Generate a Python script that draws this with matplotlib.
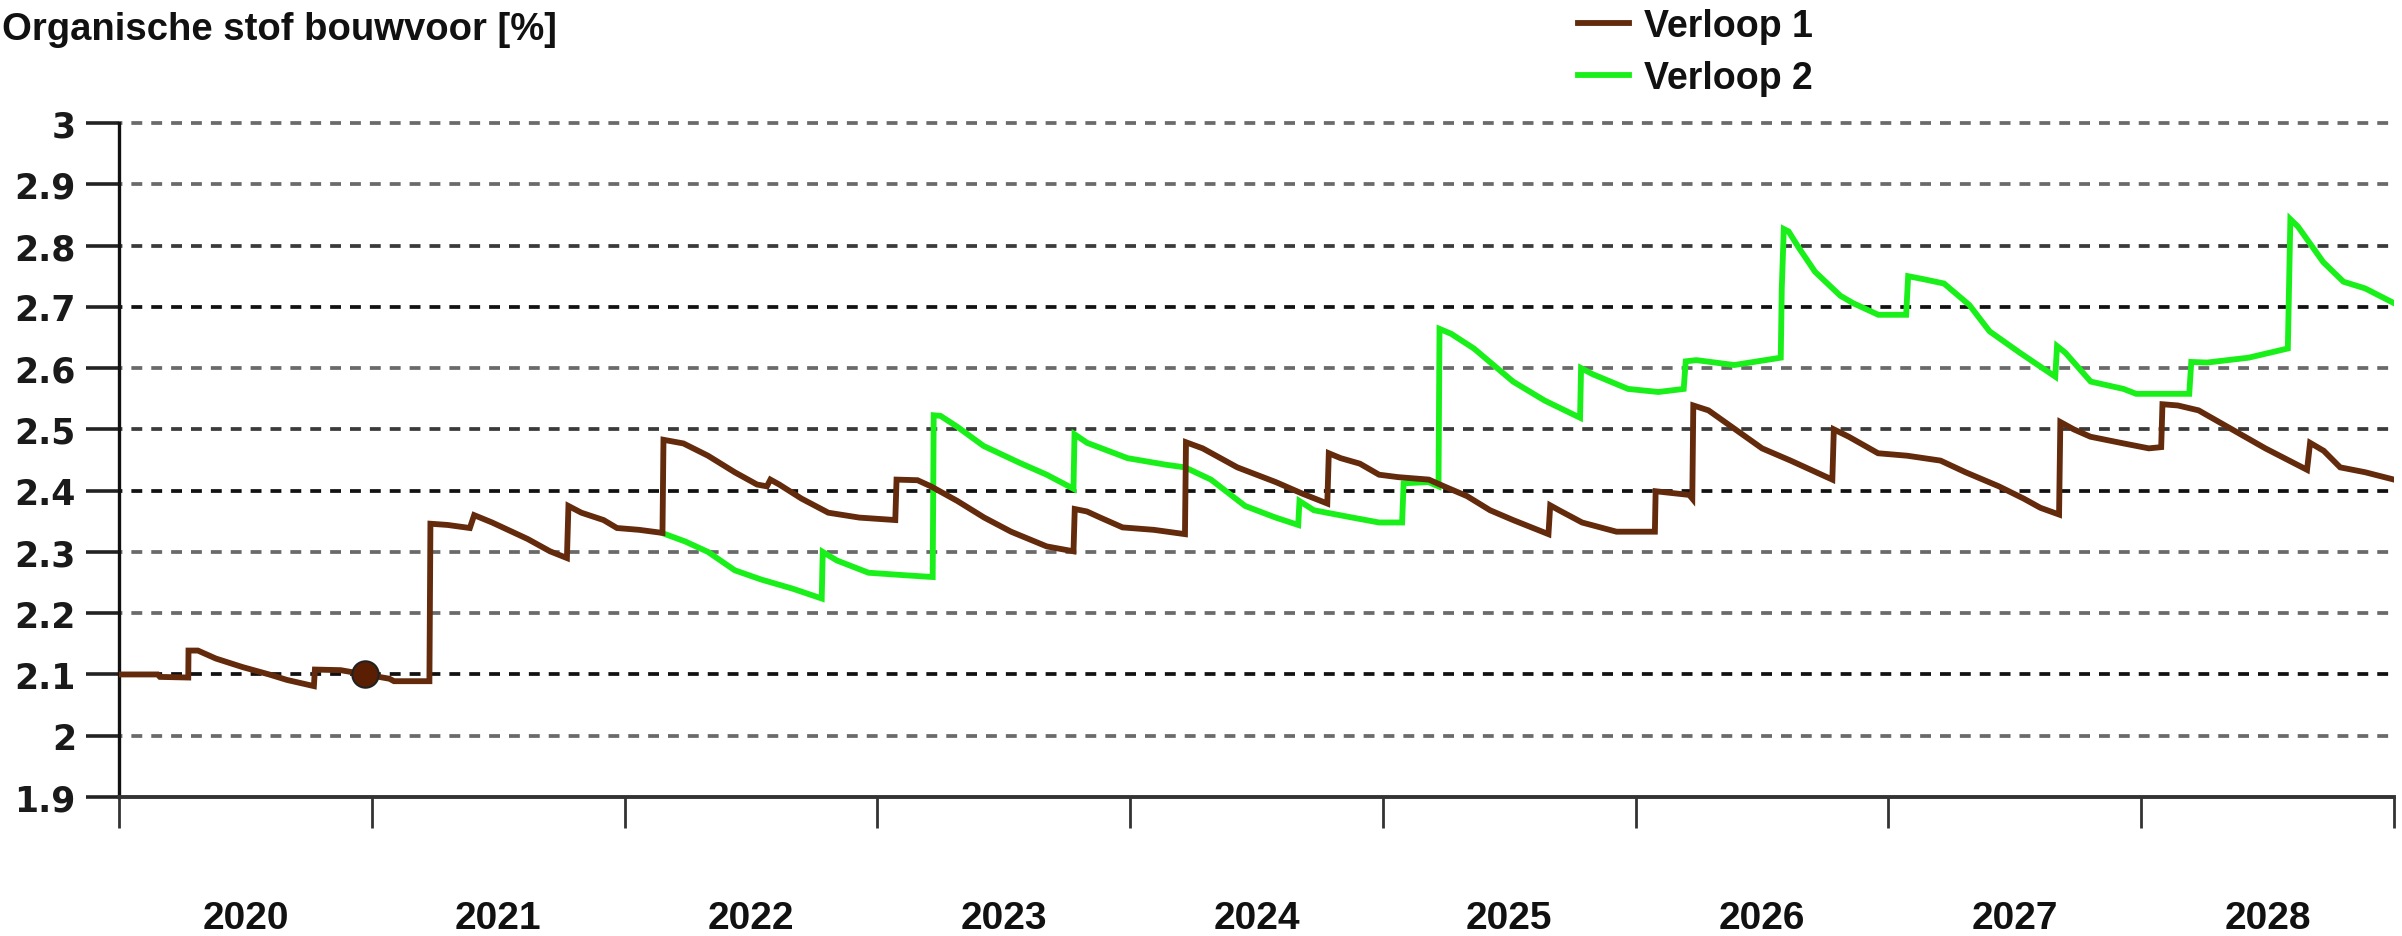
import matplotlib
matplotlib.use("Agg")
import matplotlib.pyplot as plt

# ---- data (years since start of 2020, % organic matter) ----
years = ["2020", "2021", "2022", "2023", "2024", "2025", "2026", "2027", "2028"]
yticks = [1.9, 2.0, 2.1, 2.2, 2.3, 2.4, 2.5, 2.6, 2.7, 2.8, 2.9, 3.0]
ytick_labels = ["1.9", "2", "2.1", "2.2", "2.3", "2.4", "2.5", "2.6", "2.7", "2.8", "2.9", "3"]

v1_t = [0.000, 0.153, 0.162, 0.274, 0.275, 0.312, 0.383, 0.489, 0.594, 0.665, 0.771, 0.775,
        0.877, 0.974, 1.070, 1.088, 1.228, 1.232, 1.300, 1.388, 1.405, 1.476, 1.617, 1.705,
        1.772, 1.778, 1.829, 1.917, 1.970, 2.058, 2.150, 2.154, 2.233, 2.330, 2.436, 2.524,
        2.563, 2.577, 2.612, 2.700, 2.806, 2.929, 3.071, 3.076, 3.159, 3.212, 3.317, 3.423,
        3.529, 3.670, 3.776, 3.781, 3.829, 3.882, 3.970, 4.094, 4.217, 4.221, 4.287, 4.424,
        4.576, 4.682, 4.780, 4.786, 4.833, 4.909, 4.985, 5.061, 5.182, 5.242, 5.333, 5.424,
        5.515, 5.655, 5.662, 5.697, 5.788, 5.924, 6.076, 6.079, 6.212, 6.224, 6.228, 6.288,
        6.394, 6.500, 6.613, 6.778, 6.784, 6.843, 6.959, 7.074, 7.206, 7.305, 7.437, 7.535,
        7.601, 7.675, 7.680, 7.733, 7.799, 7.931, 8.030, 8.079, 8.084, 8.145, 8.227, 8.359,
        8.491, 8.656, 8.668, 8.722, 8.787, 8.886, 9.000]
v1_y = [2.100, 2.100, 2.096, 2.095, 2.139, 2.139, 2.126, 2.112, 2.100, 2.091, 2.081, 2.108,
        2.107, 2.100, 2.093, 2.089, 2.089, 2.346, 2.344, 2.339, 2.360, 2.348, 2.321, 2.301,
        2.290, 2.375, 2.364, 2.352, 2.339, 2.336, 2.331, 2.483, 2.477, 2.457, 2.430, 2.410,
        2.407, 2.418, 2.410, 2.387, 2.364, 2.356, 2.352, 2.418, 2.417, 2.407, 2.383, 2.356,
        2.333, 2.309, 2.301, 2.370, 2.366, 2.356, 2.340, 2.336, 2.329, 2.479, 2.469, 2.438,
        2.414, 2.395, 2.379, 2.461, 2.453, 2.444, 2.426, 2.422, 2.418, 2.407, 2.391, 2.368,
        2.352, 2.329, 2.376, 2.368, 2.348, 2.333, 2.333, 2.399, 2.393, 2.387, 2.539, 2.531,
        2.500, 2.469, 2.449, 2.418, 2.500, 2.488, 2.461, 2.457, 2.449, 2.430, 2.407, 2.387,
        2.372, 2.361, 2.512, 2.500, 2.488, 2.477, 2.469, 2.471, 2.541, 2.539, 2.531, 2.500,
        2.469, 2.434, 2.478, 2.465, 2.438, 2.430, 2.418]

v2_t = [2.154, 2.240, 2.330, 2.436, 2.540, 2.665, 2.780, 2.784, 2.840, 2.965, 3.106, 3.219,
        3.223, 3.250, 3.317, 3.420, 3.565, 3.670, 3.776, 3.780, 3.830, 3.990, 4.146, 4.217,
        4.320, 4.455, 4.576, 4.665, 4.670, 4.727, 4.880, 4.985, 5.076, 5.082, 5.180, 5.220,
        5.224, 5.270, 5.360, 5.515, 5.640, 5.780, 5.784, 5.830, 5.970, 6.090, 6.190, 6.198,
        6.240, 6.390, 6.574, 6.578, 6.586, 6.605, 6.646, 6.710, 6.810, 6.860, 6.960, 7.070,
        7.078, 7.140, 7.220, 7.320, 7.400, 7.520, 7.660, 7.667, 7.700, 7.800, 7.930, 7.980,
        8.190, 8.198, 8.260, 8.425, 8.580, 8.590, 8.620, 8.720, 8.800, 8.886, 9.000]
v2_y = [2.330, 2.317, 2.300, 2.270, 2.255, 2.240, 2.224, 2.300, 2.286, 2.266, 2.262, 2.259,
        2.523, 2.522, 2.504, 2.473, 2.445, 2.426, 2.403, 2.492, 2.478, 2.453, 2.442, 2.438,
        2.418, 2.375, 2.356, 2.344, 2.383, 2.368, 2.356, 2.348, 2.348, 2.412, 2.414, 2.407,
        2.664, 2.656, 2.632, 2.578, 2.547, 2.519, 2.600, 2.590, 2.566, 2.561, 2.566, 2.611,
        2.613, 2.605, 2.617, 2.730, 2.827, 2.823, 2.796, 2.757, 2.718, 2.706, 2.687, 2.687,
        2.750, 2.745, 2.738, 2.703, 2.660, 2.625, 2.586, 2.636, 2.625, 2.578, 2.566, 2.558,
        2.558, 2.610, 2.609, 2.617, 2.632, 2.843, 2.831, 2.773, 2.741, 2.730, 2.706]

marker_t = [0.974]
marker_y = [2.100]

series_labels = ["Verloop 1", "Verloop 2"]
title = "Organische stof bouwvoor [%]"

# ---- style ----
BROWN = "#632a0c"
GREEN = "#19f019"
GRID_COLORS = {2.0: "#6a6a6a", 2.1: "#111111", 2.2: "#6a6a6a", 2.3: "#6a6a6a", 2.4: "#111111",
               2.5: "#3a3a3a", 2.6: "#6a6a6a", 2.7: "#111111", 2.8: "#3a3a3a", 2.9: "#6a6a6a",
               3.0: "#6a6a6a"}
TXT = ["Liberation Sans", "DejaVu Sans"]

fig = plt.figure(figsize=(24.02, 9.37), dpi=100)
ax = fig.add_axes([119 / 2402, (937 - 798) / 937, (2394 - 119) / 2402, (798 - 124) / 937])
ax.set_xlim(0, len(years))
ax.set_ylim(yticks[0], yticks[-1])

for v in yticks[1:]:
    ax.axhline(v, color=GRID_COLORS[round(v, 1)], lw=2.7, linestyle=(2.0, (2.9, 2.4)),
               zorder=1, clip_on=False)

ax.plot(v2_t, v2_y, color=GREEN, lw=4.2, zorder=3, solid_joinstyle="miter", label=series_labels[1])
ax.plot(v1_t, v1_y, color=BROWN, lw=4.2, zorder=4, solid_joinstyle="miter", label=series_labels[0])
ax.plot(marker_t, marker_y, "o", ms=19, mfc="#5a1f02", mec="#222222", mew=1.5, zorder=5)

for s in ["top", "right"]:
    ax.spines[s].set_visible(False)
ax.spines["left"].set_color("#111111")
ax.spines["left"].set_linewidth(2.4)
ax.spines["bottom"].set_color("#333333")
ax.spines["bottom"].set_linewidth(2.8)

ax.set_yticks(yticks)
ax.set_yticklabels(ytick_labels)
ax.tick_params(axis="y", direction="out", length=24, width=2.6, color="#222222", pad=7,
               labelsize=25)
for lab in ax.get_yticklabels():
    lab.set_fontfamily(["DejaVu Sans"])
    lab.set_fontweight("bold")
    lab.set_color("#1a1a1a")

ax.set_xticks(range(len(years) + 1))
ax.set_xticklabels([""] * (len(years) + 1))
ax.tick_params(axis="x", which="major", direction="out", length=22, width=2.0, color="#333333")
ax.set_xticks([i + 0.5 for i in range(len(years))], minor=True)
ax.set_xticklabels(years, minor=True)
ax.tick_params(axis="x", which="minor", length=0, pad=74, labelsize=28)
for lab in ax.get_xticklabels(minor=True):
    lab.set_fontfamily(TXT)
    lab.set_fontweight("bold")
    lab.set_color("#111111")

fig.text(2 / 2402, 1 - 12 / 937, title, ha="left", va="top", fontsize=27.5,
         fontweight="bold", family=TXT, color="#111111")

h, l = ax.get_legend_handles_labels()
order = [1, 0]
leg = fig.legend([h[i] for i in order], [l[i] for i in order], loc="upper left",
                 bbox_to_anchor=(1578 / 2402, 1 - 9 / 937), frameon=False,
                 handlelength=1.35, handletextpad=0.4, labelspacing=0.42, borderpad=0,
                 borderaxespad=0, prop={"family": TXT, "weight": "bold", "size": 27})
for t in leg.get_texts():
    t.set_color("#111111")

fig.savefig("out.png", dpi=100, facecolor="white")
